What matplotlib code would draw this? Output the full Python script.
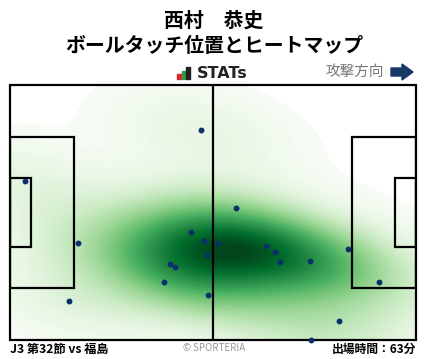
import numpy as np
import matplotlib
matplotlib.use("Agg")
import matplotlib.pyplot as plt
from matplotlib.patches import Rectangle, FancyArrow

plt.rcParams['font.family'] = ['Noto Sans CJK JP', 'DejaVu Sans']

# Ball touch positions (pitch metres, x: 0-105 left->right, y: 0-68 top->bottom)
touch_x = [49.5, 4.0, 46.8, 17.7, 50.3, 51.0, 41.5, 42.8, 39.9, 51.3, 15.3,
           58.5, 53.9, 66.3, 68.6, 69.9, 77.7, 87.4, 95.5, 85.2, 77.9]
touch_y = [12.1, 25.5, 39.3, 42.0, 41.6, 45.2, 47.6, 48.4, 52.6, 56.1, 57.7,
           32.9, 42.0, 42.8, 44.4, 47.3, 47.0, 43.8, 52.4, 63.0, 68.0]

title_name = "西村　恭史"
title_sub = "ボールタッチ位置とヒートマップ"
match_label = "J3 第32節 vs 福島"
minutes_label = "出場時間：63分"

L, W = 105.0, 68.0

fig = plt.figure(figsize=(4.28, 3.59), dpi=100)
ax = fig.add_axes([10/428, (359-340)/359, 406/428, 255/359])
ax.set_xlim(0, L)
ax.set_ylim(W, 0)
ax.axis('off')

# Gaussian KDE (Scott's rule, slightly widened)
pts = np.vstack([touch_x, touch_y])
n = pts.shape[1]
factor = n ** (-1.0 / 6) * 1.12
cov = np.cov(pts) * factor ** 2
inv = np.linalg.inv(cov)
gx, gy = np.meshgrid(np.linspace(0, L, 300), np.linspace(0, W, 200))
grid = np.vstack([gx.ravel(), gy.ravel()])
dens = np.zeros(grid.shape[1])
for i in range(n):
    d = grid - pts[:, i:i+1]
    dens += np.exp(-0.5 * np.sum(d * (inv @ d), axis=0))
dens = dens.reshape(gx.shape)
dens /= dens.max()
levels = np.linspace(0.02, 1.0, 80)
ax.contourf(gx, gy, dens, levels=levels, cmap='Greens', extend='max', zorder=1)

lc = 'black'
lw = 1.6
ax.add_patch(Rectangle((0, 0), L, W, fill=False, ec=lc, lw=lw, zorder=3, clip_on=False))
ax.plot([L/2, L/2], [0, W], color=lc, lw=lw, zorder=3)
pa_w, pa_d = 40.32, 16.5
ga_w, ga_d = 18.32, 5.5
for x0, d in [(0, pa_d), (L - pa_d, pa_d)]:
    ax.add_patch(Rectangle((x0, (W - pa_w)/2), d, pa_w, fill=False, ec=lc, lw=lw, zorder=3))
for x0, d in [(0, ga_d), (L - ga_d, ga_d)]:
    ax.add_patch(Rectangle((x0, (W - ga_w)/2), d, ga_w, fill=False, ec=lc, lw=lw, zorder=3))

ax.scatter(touch_x, touch_y, s=18, color='#0b2f6b', zorder=4, clip_on=False, linewidths=0)

# Titles
fig.text(0.5, 1 - 20/359, title_name, ha='center', va='center', fontsize=14.3, fontweight='bold')
fig.text(0.5, 1 - 46/359, title_sub, ha='center', va='center', fontsize=14.3, fontweight='bold')

# STATs logo
for bx, bh, c in [(177, 5, '#d7262e'), (181.5, 8, '#2e9e3e'), (186, 12, '#222222')]:
    fig.patches.append(Rectangle((bx/428, (359-79)/359), 3.5/428, bh/359,
                                 transform=fig.transFigure, color=c, figure=fig))
fig.text(197/428, 1 - 73/359, "STATs", ha='left', va='center', fontsize=11.5,
         fontweight='bold', color='#222222', family=['DejaVu Sans'])

# Attack direction
fig.text(384/428, 1 - 72/359, "攻撃方向", ha='right', va='center', fontsize=10.5, color='#777777')
fig.patches.append(FancyArrow(391/428, (359-72)/359, 11/428, 0, width=8/359,
                              head_width=16/359, head_length=11/428,
                              length_includes_head=False, transform=fig.transFigure,
                              color='#173a66', figure=fig))

# Footer
fig.text(10/428, 1 - 349/359, match_label, ha='left', va='center', fontsize=8.8, fontweight='bold')
fig.text(0.5, 1 - 348/359, "© SPORTERIA", ha='center', va='center', fontsize=7, color='#999999')
fig.text(416/428, 1 - 349/359, minutes_label, ha='right', va='center', fontsize=8.5, fontweight='bold')

fig.savefig('out.png', dpi=100)
